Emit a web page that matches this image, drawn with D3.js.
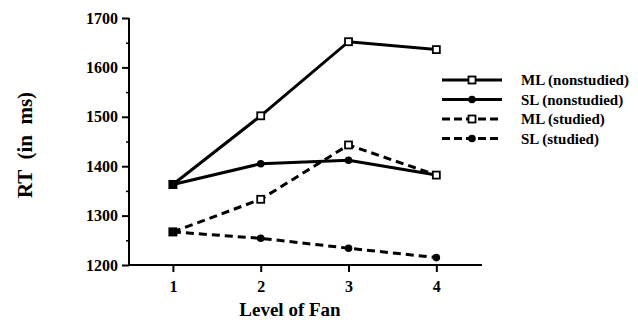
<!DOCTYPE html>
<html>
<head>
<meta charset="utf-8">
<script src="https://d3js.org/d3.v7.min.js"></script>
<style>
  body { margin: 0; background: #fff; }
</style>
</head>
<body>
<div id="container"></div>
<script>
  // DATA
  const fanLevels = [1, 2, 3, 4];
  const mlNonstudied = [1363, 1502, 1652, 1636];
  const slNonstudied = [1363, 1405, 1412, 1382];
  const mlStudied = [1267, 1333, 1443, 1382];
  const slStudied = [1267, 1254, 1234, 1215];
  const yTicks = [1200, 1300, 1400, 1500, 1600, 1700];
  const yMinorTicks = [1250, 1350, 1450, 1550, 1650];

  const series = [
    { name: "ML (nonstudied)", values: mlNonstudied, dashed: false, marker: "square" },
    { name: "SL (nonstudied)", values: slNonstudied, dashed: false, marker: "dot" },
    { name: "ML (studied)", values: mlStudied, dashed: true, marker: "square" },
    { name: "SL (studied)", values: slStudied, dashed: true, marker: "dot" },
  ];

  const FONT = "'Liberation Serif', 'DejaVu Serif', serif";
  const W = 638, H = 320;
  const svg = d3.select("#container").append("svg")
    .attr("width", W).attr("height", H);

  // SCALES
  const x = d3.scaleLinear().domain([0.5, 4.52]).range([129, 482]);
  const y = d3.scaleLinear().domain([1200, 1700]).range([265, 18]);

  // AXES
  const yAxis = svg.append("g")
    .attr("transform", "translate(129,0)")
    .call(d3.axisLeft(y).tickValues(yTicks).tickSize(7).tickPadding(4).tickFormat(d3.format("d")));
  yAxis.attr("font-family", FONT).attr("font-weight", "bold");
  yAxis.select(".domain").attr("stroke-width", 2).attr("d", "M0," + y(1700) + "V" + y(1200));
  yAxis.selectAll(".tick line").attr("stroke-width", 2);
  yAxis.selectAll(".tick text").attr("font-size", 16);

  svg.append("g")
    .attr("transform", "translate(129,0)")
    .call(d3.axisLeft(y).tickValues(yMinorTicks).tickSize(3).tickFormat(""))
    .call(g => g.select(".domain").remove())
    .selectAll(".tick line").attr("stroke-width", 1.5);

  const xAxis = svg.append("g")
    .attr("transform", "translate(0,265)")
    .call(d3.axisBottom(x).tickValues(fanLevels).tickSize(7).tickPadding(9).tickFormat(d3.format("d")));
  xAxis.attr("font-family", FONT).attr("font-weight", "bold");
  xAxis.select(".domain").attr("stroke-width", 2).attr("d", "M128,0H482");
  xAxis.selectAll(".tick line").attr("stroke-width", 2);
  xAxis.selectAll(".tick text").attr("font-size", 16);

  // AXIS TITLES
  svg.append("text")
    .attr("x", 290).attr("y", 316)
    .attr("text-anchor", "middle")
    .attr("font-family", FONT).attr("font-weight", "bold")
    .attr("font-size", 19)
    .text("Level of Fan");

  svg.append("text")
    .attr("transform", "translate(32,145) rotate(-90)")
    .attr("text-anchor", "middle")
    .attr("font-family", FONT).attr("font-weight", "bold")
    .attr("font-size", 21)
    .attr("xml:space", "preserve")
    .text("RT  (in  ms)");

  // LINES
  const line = d3.line()
    .x((d, i) => x(fanLevels[i]))
    .y(d => y(d));

  series.forEach(s => {
    svg.append("path")
      .attr("fill", "none")
      .attr("stroke", "#000")
      .attr("stroke-width", 3)
      .attr("stroke-dasharray", s.dashed ? "8,5" : null)
      .attr("d", line(s.values));
  });

  function drawMarker(g, cx, cy, type) {
    if (type === "square") {
      g.append("rect")
        .attr("x", cx - 3.5).attr("y", cy - 3.5)
        .attr("width", 7).attr("height", 7)
        .attr("fill", "#fff").attr("stroke", "#000").attr("stroke-width", 1.8);
    } else {
      g.append("circle")
        .attr("cx", cx).attr("cy", cy).attr("r", 3.8)
        .attr("fill", "#000");
    }
  }

  series.forEach(s => {
    const g = svg.append("g");
    s.values.forEach((v, i) => {
      if (i === 0) return;
      drawMarker(g, x(fanLevels[i]), y(v), s.marker);
    });
  });
  // overlapping first points look like filled squares
  [mlNonstudied[0], mlStudied[0]].forEach(v => {
    svg.append("rect")
      .attr("x", x(fanLevels[0]) - 4.5).attr("y", y(v) - 4.5)
      .attr("width", 9).attr("height", 9)
      .attr("fill", "#000");
  });

  // LEGEND
  const legend = svg.selectAll(".legend")
    .data(series)
    .enter().append("g")
    .attr("class", "legend")
    .attr("transform", (d, i) => "translate(0," + (80 + i * 19.5) + ")");

  legend.append("line")
    .attr("x1", 442).attr("x2", 502)
    .attr("y1", 0).attr("y2", 0)
    .attr("stroke", "#000").attr("stroke-width", 3)
    .attr("stroke-dasharray", d => d.dashed ? "8,4" : null);

  legend.each(function (d) {
    drawMarker(d3.select(this), 472, 0, d.marker);
  });

  legend.append("text")
    .attr("x", 521).attr("y", 0)
    .attr("dy", "0.35em")
    .attr("font-family", FONT).attr("font-weight", "bold")
    .attr("font-size", 15)
    .text(d => d.name);
</script>
</body>
</html>
